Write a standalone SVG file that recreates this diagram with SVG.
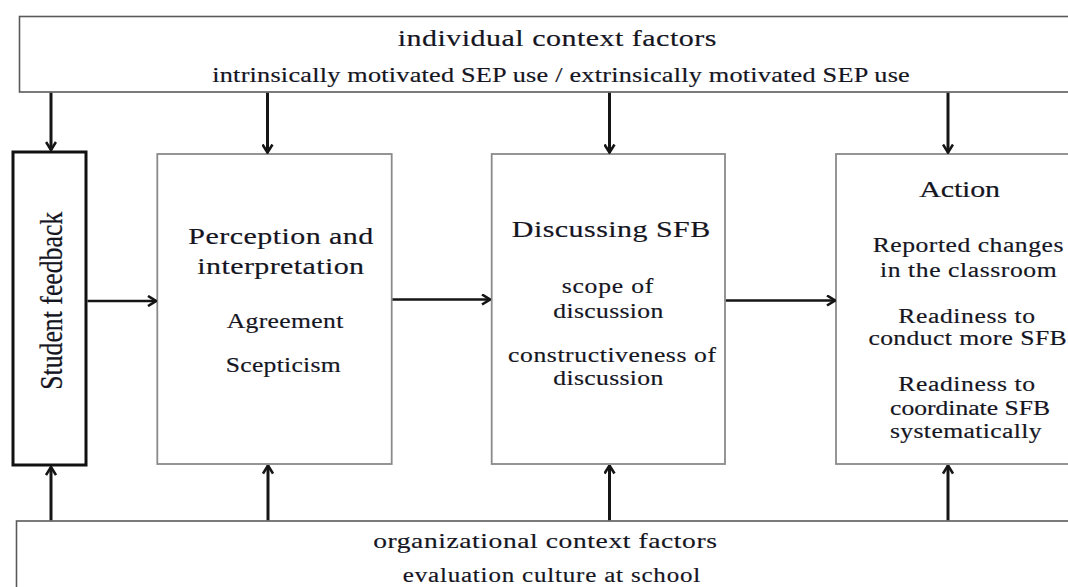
<svg xmlns="http://www.w3.org/2000/svg" width="1068" height="587" viewBox="0 0 1068 587">
<style>
.t{font-family:"Liberation Serif","Times New Roman",serif;fill:#15151f;stroke:#15151f;stroke-width:0.18;text-anchor:middle}
.h{font-size:24px}
.b{font-size:20.5px}
.box{fill:#fff;stroke:#8a8a8a;stroke-width:1.8}
.outer{fill:#fff;stroke:#5a5a5a;stroke-width:1.6}
.arr{stroke:#151515;stroke-width:3;fill:none}
.harr{stroke:#151515;stroke-width:2.6;fill:none}
</style>
<defs>
<marker id="ah" viewBox="0 0 10 12" refX="9" refY="6" markerWidth="10" markerHeight="12" markerUnits="userSpaceOnUse" orient="auto">
<path d="M1,1 L9,6 L1,11" fill="none" stroke="#151515" stroke-width="2.6" stroke-linejoin="miter"/>
</marker>
</defs>
<rect width="1068" height="587" fill="#fff"/>

<g id="individual-context">
<rect class="outer" x="19.5" y="16.5" width="1100" height="75.5"/>
<text class="t h" transform="translate(557,46) scale(1.25,1)" textLength="255" lengthAdjust="spacing">individual context factors</text>
<text class="t" style="font-size:21px" transform="translate(561,81.5) scale(1.25,1)" textLength="558" lengthAdjust="spacing">intrinsically motivated SEP use / extrinsically motivated SEP use</text>
</g>

<g id="organizational-context">
<rect class="outer" x="16.5" y="521" width="1100" height="100"/>
<text class="t" style="font-size:22px" transform="translate(545,548) scale(1.25,1)" textLength="275" lengthAdjust="spacing">organizational context factors</text>
<text class="t" style="font-size:20px" transform="translate(551.5,582) scale(1.25,1)" textLength="238" lengthAdjust="spacing">evaluation culture at school</text>
</g>

<g id="student-feedback">
<rect x="13" y="152" width="73" height="313" fill="#fff" stroke="#111" stroke-width="3"/>
<text class="t h" transform="translate(61.5,300.8) scale(1.35,1) rotate(-90)" x="0" y="0" textLength="178" lengthAdjust="spacingAndGlyphs">Student feedback</text>
</g>

<g id="perception">
<rect class="box" x="157.3" y="154" width="234.4" height="310"/>
<text class="t h" transform="translate(280.8,244) scale(1.25,1)" textLength="148" lengthAdjust="spacing">Perception and</text>
<text class="t h" transform="translate(280.7,274) scale(1.25,1)" textLength="133.4" lengthAdjust="spacing">interpretation</text>
<text class="t b" transform="translate(285,328.3) scale(1.25,1)" textLength="93.4" lengthAdjust="spacing">Agreement</text>
<text class="t b" transform="translate(283.2,371.7) scale(1.25,1)" textLength="92" lengthAdjust="spacing">Scepticism</text>
</g>

<g id="discussing">
<rect class="box" x="491.7" y="154" width="233.3" height="310"/>
<text class="t h" transform="translate(611,237.3) scale(1.25,1)" textLength="158.8" lengthAdjust="spacing">Discussing SFB</text>
<text class="t b" transform="translate(607.5,293.3) scale(1.25,1)" textLength="73.4" lengthAdjust="spacing">scope of</text>
<text class="t b" transform="translate(608.3,318.3) scale(1.25,1)" textLength="88" lengthAdjust="spacing">discussion</text>
<text class="t b" transform="translate(612,361.7) scale(1.25,1)" textLength="166.4" lengthAdjust="spacing">constructiveness of</text>
<text class="t b" transform="translate(608.3,385) scale(1.25,1)" textLength="88" lengthAdjust="spacing">discussion</text>
</g>

<g id="action">
<rect class="box" x="836" y="154" width="300" height="310"/>
<text class="t h" transform="translate(959.7,197) scale(1.25,1)" textLength="64.6" lengthAdjust="spacing">Action</text>
<text class="t b" transform="translate(968,251.7) scale(1.25,1)" textLength="152.6" lengthAdjust="spacing">Reported changes</text>
<text class="t b" transform="translate(968.3,276.7) scale(1.25,1)" textLength="141.4" lengthAdjust="spacing">in the classroom</text>
<text class="t b" transform="translate(966.7,323.3) scale(1.25,1)" textLength="109.4" lengthAdjust="spacing">Readiness to</text>
<text class="t b" transform="translate(967.5,345) scale(1.25,1)" textLength="158.6" lengthAdjust="spacing">conduct more SFB</text>
<text class="t b" transform="translate(966.7,390.7) scale(1.25,1)" textLength="109.4" lengthAdjust="spacing">Readiness to</text>
<text class="t b" transform="translate(970,415) scale(1.25,1)" textLength="128" lengthAdjust="spacing">coordinate SFB</text>
<text class="t b" transform="translate(965.8,438.3) scale(1.25,1)" textLength="121.4" lengthAdjust="spacing">systematically</text>
</g>

<g id="connectors">
<line class="arr" x1="51" y1="92.8" x2="51" y2="150" marker-end="url(#ah)"/>
<line class="arr" x1="267.5" y1="92.8" x2="267.5" y2="152.5" marker-end="url(#ah)"/>
<line class="arr" x1="609.5" y1="92.8" x2="609.5" y2="152.5" marker-end="url(#ah)"/>
<line class="arr" x1="948" y1="92.8" x2="948" y2="152.5" marker-end="url(#ah)"/>
<line class="arr" x1="51" y1="520.2" x2="51" y2="467" marker-end="url(#ah)"/>
<line class="arr" x1="268" y1="520.2" x2="268" y2="465.5" marker-end="url(#ah)"/>
<line class="arr" x1="609.5" y1="520.2" x2="609.5" y2="465.5" marker-end="url(#ah)"/>
<line class="arr" x1="948" y1="520.2" x2="948" y2="465.5" marker-end="url(#ah)"/>
<line class="harr" x1="87.5" y1="301" x2="156" y2="301" marker-end="url(#ah)"/>
<line class="harr" x1="392.5" y1="299.5" x2="490" y2="299.5" marker-end="url(#ah)"/>
<line class="harr" x1="725.9" y1="300.5" x2="835" y2="300.5" marker-end="url(#ah)"/>
</g>
</svg>
